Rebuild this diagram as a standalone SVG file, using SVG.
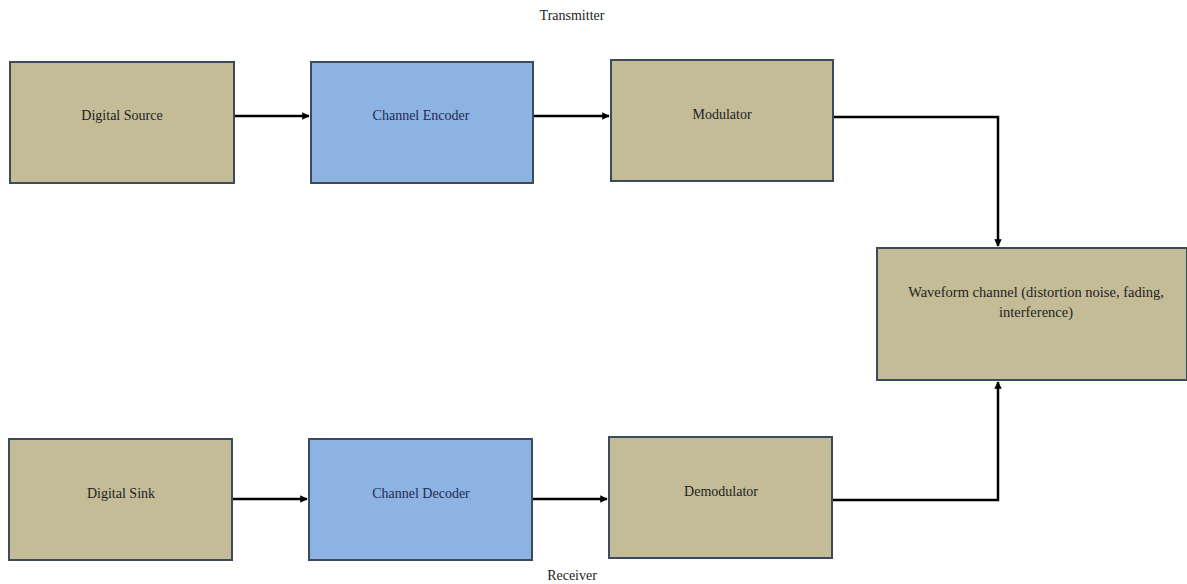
<svg xmlns="http://www.w3.org/2000/svg" width="1187" height="584" viewBox="0 0 1187 584">
<style>
.box{stroke:#3d4a5c;stroke-width:2}
.tan{fill:#c4bc97}
.blue{fill:#8db3e2}
.t{font-family:'Liberation Serif','Times New Roman','DejaVu Serif',serif;font-size:14px;fill:#222;text-anchor:middle}
.tb{fill:#1f2a55}
.w{font-size:14.5px}
.c{fill:none;stroke:#000;stroke-width:2.5}
</style>
<defs>
<marker id="ah" viewBox="0 0 10 10" refX="9" refY="5" markerWidth="3" markerHeight="3" orient="auto" markerUnits="strokeWidth">
<path d="M0,0 L10,5 L0,10 z" fill="#000"/>
</marker>
</defs>
<rect width="1187" height="584" fill="#fff"/>
<text class="t" x="572" y="20">Transmitter</text>
<text class="t" x="572" y="580">Receiver</text>
<g id="connectors">
<path class="c" d="M234,116 L309,116" marker-end="url(#ah)"/>
<path class="c" d="M533,116 L609,116" marker-end="url(#ah)"/>
<path class="c" d="M833,117 L998,117 L998,246" marker-end="url(#ah)"/>
<path class="c" d="M232,499 L307,499" marker-end="url(#ah)"/>
<path class="c" d="M532,499 L607,499" marker-end="url(#ah)"/>
<path class="c" d="M832,500 L998,500 L998,382" marker-end="url(#ah)"/>
</g>
<g id="digital-source"><rect class="box tan" x="10" y="62" width="224" height="121"/><text class="t" x="122" y="120">Digital Source</text></g>
<g id="channel-encoder"><rect class="box blue" x="311" y="62" width="222" height="121"/><text class="t tb" x="421" y="120">Channel Encoder</text></g>
<g id="modulator"><rect class="box tan" x="611" y="60" width="222" height="121"/><text class="t" x="722" y="119">Modulator</text></g>
<g id="waveform-channel"><rect class="box tan" x="877" y="248" width="310" height="132"/><text class="t w" x="1036" y="297">Waveform channel (distortion noise, fading,</text><text class="t w" x="1036" y="317">interference)</text></g>
<g id="digital-sink"><rect class="box tan" x="9" y="439" width="223" height="121"/><text class="t" x="121" y="498">Digital Sink</text></g>
<g id="channel-decoder"><rect class="box blue" x="309" y="439" width="223" height="121"/><text class="t tb" x="421" y="498">Channel Decoder</text></g>
<g id="demodulator"><rect class="box tan" x="609" y="437" width="223" height="121"/><text class="t" x="721" y="496">Demodulator</text></g>
</svg>
